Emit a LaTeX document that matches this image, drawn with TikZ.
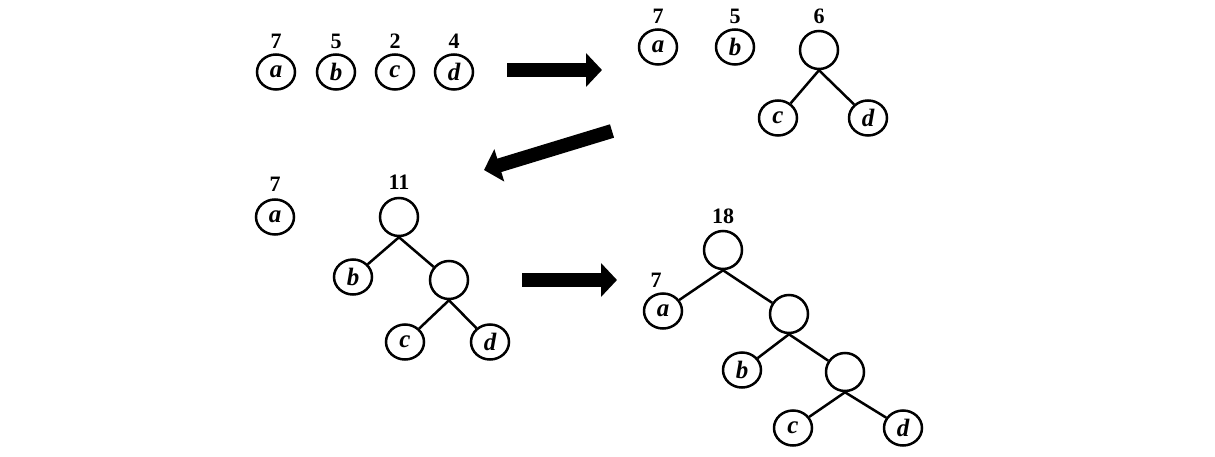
\documentclass[tikz,border=0pt]{standalone}
\usepackage{fontspec}
\setmainfont{Liberation Serif}
\usetikzlibrary{shapes.geometric,arrows.meta}
\tikzset{
  leaf/.style={draw, ellipse, line width=2.5pt, minimum width=38pt, minimum height=35pt, inner sep=0pt, font=\fontsize{25}{25}\selectfont\bfseries\itshape},
  inner/.style={draw, circle, line width=2.5pt, minimum size=38pt, inner sep=0pt},
  num/.style={inner sep=0pt, font=\fontsize{22}{22}\selectfont\bfseries},
  edge/.style={line width=2.5pt},
  bigarrow/.style={line width=14pt, -{Triangle[width=33pt,length=16pt]}}
}
\begin{document}
\begin{tikzpicture}[x=1pt,y=-1pt]
\useasboundingbox (0,0) rectangle (1215,457);
% stage 1
\node[leaf] (a1) at (276,72) {a};
\node[leaf] (b1) at (336,72) {b};
\node[leaf] (c1) at (395,72) {c};
\node[leaf] (d1) at (454,72) {d};
\node[num] (la1) at (276,41) {7};
\node[num] (lb1) at (336,41) {5};
\node[num] (lc1) at (395,41) {2};
\node[num] (ld1) at (454,41) {4};
% arrow 1
\coordinate (s1) at (507,70);
\coordinate (e1) at (602,70);
\draw[bigarrow] (s1) -- (e1);
% stage 2
\node[leaf] (a2) at (658,47) {a};
\node[leaf] (b2) at (735,47) {b};
\node[inner] (n6) at (819,50) {};
\node[leaf] (c2) at (778,118) {c};
\node[leaf] (d2) at (868,118) {d};
\node[num] (la2) at (658,16) {7};
\node[num] (lb2) at (735,16) {5};
\node[num] (l6) at (819,16) {6};
\draw[edge] (n6.south) -- (c2);
\draw[edge] (n6.south) -- (d2);
% arrow 2
\coordinate (s2) at (612,131);
\coordinate (e2) at (484,170);
\draw[bigarrow] (s2) -- (e2);
% stage 3
\node[leaf] (a3) at (275,217) {a};
\node[num] (la3) at (275,184) {7};
\node[inner] (n11) at (399,217) {};
\node[num] (l11) at (399,182) {11};
\node[leaf] (b3) at (353,277) {b};
\node[inner] (n5) at (449,280) {};
\node[leaf] (c3) at (405,342) {c};
\node[leaf] (d3) at (490,342) {d};
\draw[edge] (n11.south) -- (b3);
\draw[edge] (n11.south) -- (n5);
\draw[edge] (n5.south) -- (c3);
\draw[edge] (n5.south) -- (d3);
% arrow 3
\coordinate (s3) at (522,280);
\coordinate (e3) at (617,280);
\draw[bigarrow] (s3) -- (e3);
% stage 4
\node[inner] (n18) at (723,250) {};
\node[num] (l18) at (723,216) {18};
\node[leaf] (a4) at (663,311) {a};
\node[num] (la4) at (656,280) {7};
\node[inner] (m11) at (789,314) {};
\node[leaf] (b4) at (742,370) {b};
\node[inner] (m6) at (845,372) {};
\node[leaf] (c4) at (793,428) {c};
\node[leaf] (d4) at (903,428) {d};
\draw[edge] (n18.south) -- (a4);
\draw[edge] (n18.south) -- (m11);
\draw[edge] (m11.south) -- (b4);
\draw[edge] (m11.south) -- (m6);
\draw[edge] (m6.south) -- (c4);
\draw[edge] (m6.south) -- (d4);
\end{tikzpicture}
\end{document}
